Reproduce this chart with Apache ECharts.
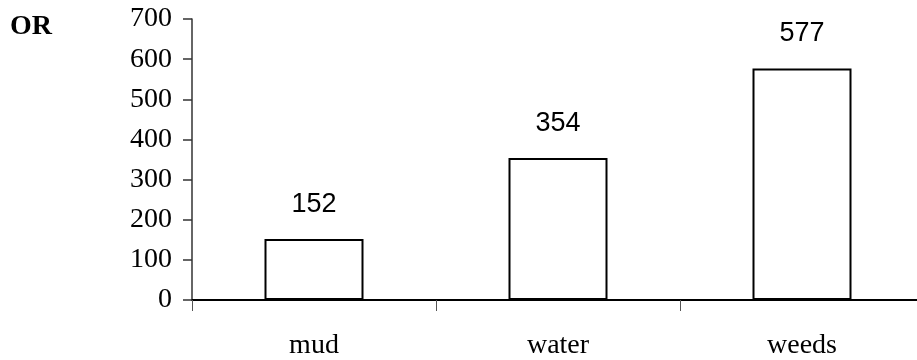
<!DOCTYPE html>
<html>
<head>
<meta charset="utf-8">
<script src="https://cdn.jsdelivr.net/npm/echarts@6/dist/echarts.min.js"></script>
<style>
  html, body { margin: 0; padding: 0; background: #fff; overflow: hidden; width: 917px; height: 360px; }
  /* the drawing surface runs a little past the right edge of the page */
  #chart { width: 925px; height: 360px; }
</style>
</head>
<body>
<div id="chart"></div>
<script>
// Habitat categories and their counts
const categories = ['mud', 'water', 'weeds'];
const counts = [152, 354, 577];
// Value-axis range
const yMin = 0;
const yMax = 700;
const yStep = 100;

const chart = echarts.init(document.getElementById('chart'));

chart.setOption({
  animation: false,
  backgroundColor: '#ffffff',
  grid: { left: 192, right: 1, top: 19, bottom: 60, containLabel: false },
  graphic: [{
    type: 'text',
    left: 10,
    top: 13,
    style: {
      text: 'OR',
      font: 'bold 28px "Liberation Serif", "Times New Roman", serif',
      fill: '#000'
    }
  }],
  xAxis: {
    type: 'category',
    data: categories,
    boundaryGap: true,
    axisLine: { show: true, lineStyle: { color: '#000', width: 2 } },
    axisTick: { show: true, alignWithLabel: false, length: 11, lineStyle: { color: '#555', width: 1 } },
    axisLabel: {
      margin: 32,
      color: '#000',
      fontFamily: '"Liberation Serif", "Times New Roman", serif',
      fontSize: 28
    },
    splitLine: { show: false }
  },
  yAxis: {
    type: 'value',
    min: yMin,
    max: yMax,
    interval: yStep,
    axisLine: { show: true, lineStyle: { color: '#333', width: 1.5 } },
    axisTick: { show: true, inside: false, length: 9, lineStyle: { color: '#333', width: 1.5 } },
    axisLabel: {
      margin: 20,
      color: '#000',
      fontFamily: '"Liberation Serif", "Times New Roman", serif',
      fontSize: 28
    },
    splitLine: { show: false }
  },
  series: [{
    type: 'bar',
    data: counts,
    barWidth: 99,
    itemStyle: { color: '#ffffff', borderColor: '#000', borderWidth: 2 },
    label: {
      show: true,
      position: 'top',
      distance: 21,
      color: '#000',
      fontFamily: '"Liberation Sans", Arial, sans-serif',
      fontSize: 27
    }
  }]
});
</script>
</body>
</html>
